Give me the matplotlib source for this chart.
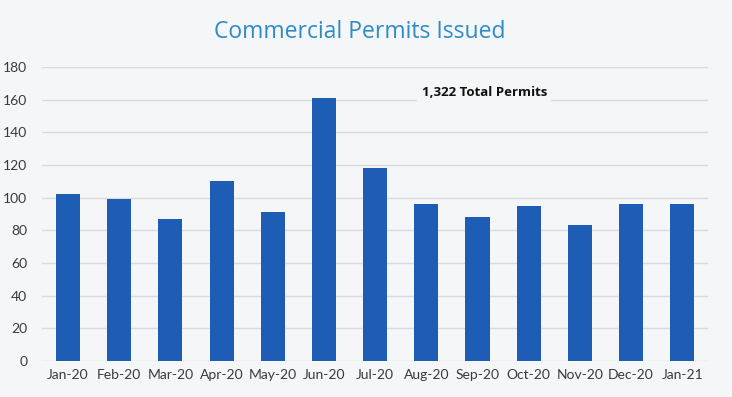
import matplotlib.pyplot as plt
import numpy as np

# === DATA ===
MONTHS = ["Jan-20", "Feb-20", "Mar-20", "Apr-20", "May-20", "Jun-20", "Jul-20",
          "Aug-20", "Sep-20", "Oct-20", "Nov-20", "Dec-20", "Jan-21"]
PERMITS = [102, 99, 87, 110, 91, 161, 118, 96, 88, 95, 83, 96, 96]
Y_TICKS = [0, 20, 40, 60, 80, 100, 120, 140, 160, 180]
TOTAL_LABEL = "1,322 Total Permits"
TITLE = "Commercial Permits Issued"

BAR_COLOR = "#1e5db6"
BG_COLOR = "#f5f6f7"

fig = plt.figure(figsize=(7.32, 3.97), dpi=100, facecolor=BG_COLOR)
ax = fig.add_axes([0.058, 0.0907, 0.909, 0.7405])
ax.set_facecolor(BG_COLOR)

x = np.arange(len(MONTHS))
ax.bar(x, PERMITS, width=0.47, color=BAR_COLOR, zorder=3)

ax.set_xlim(-0.5, len(MONTHS) - 0.5)
ax.set_ylim(0, 180)
ax.set_yticks(Y_TICKS)
ax.set_xticks(x)
ax.set_xticklabels(MONTHS)

ax.grid(axis="y", color="#dadada", linewidth=1, zorder=0)
for s in ax.spines.values():
    s.set_visible(False)
ax.tick_params(length=0, labelsize=10, labelcolor="#3a3a3a")
ax.tick_params(axis="x", pad=6)
ax.tick_params(axis="y", pad=11)
for lbl in ax.get_xticklabels() + ax.get_yticklabels():
    lbl.set_fontfamily("Lato")

# Total annotation
ax.text(0.664, 0.912, TOTAL_LABEL, transform=ax.transAxes, ha="center", va="center",
        fontsize=9.5, fontweight="bold", family="Open Sans", color="#111111",
        bbox=dict(facecolor=BG_COLOR, edgecolor="none", pad=3), zorder=4)

fig.text(0.492, 0.92, TITLE, ha="center", va="center", fontsize=16.5,
         color="#2e8bc8", family="Open Sans")

plt.savefig("out.png", dpi=100, facecolor=BG_COLOR)
plt.close()
